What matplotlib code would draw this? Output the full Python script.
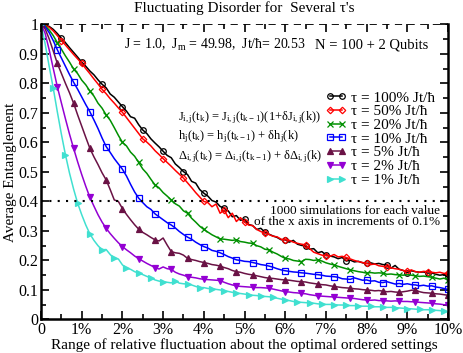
import matplotlib
matplotlib.use("Agg")
import matplotlib.pyplot as plt
import numpy as np
from matplotlib.ticker import MultipleLocator

plt.rcParams['font.family'] = ['Liberation Serif', 'DejaVu Serif']
plt.rcParams['mathtext.fontset'] = 'custom'
plt.rcParams['mathtext.rm'] = 'Liberation Serif'
plt.rcParams['mathtext.it'] = 'Liberation Serif'
plt.rcParams['mathtext.default'] = 'regular'

# range of relative fluctuation, in percent (0.1% steps)
x_pct = np.round(np.arange(0, 101) * 0.1, 1)

tau_100 = [1.000, 0.998, 0.993, 0.983, 0.969, 0.953, 0.938, 0.921, 0.905, 0.889,
           0.872, 0.858, 0.842, 0.829, 0.812, 0.797, 0.785, 0.764, 0.753, 0.737,
           0.721, 0.706, 0.687, 0.682, 0.660, 0.642, 0.630, 0.612, 0.598, 0.585,
           0.570, 0.556, 0.548, 0.527, 0.515, 0.501, 0.491, 0.468, 0.462, 0.440,
           0.428, 0.418, 0.403, 0.398, 0.383, 0.377, 0.368, 0.348, 0.352, 0.336,
           0.340, 0.322, 0.318, 0.305, 0.309, 0.296, 0.289, 0.283, 0.278, 0.270,
           0.270, 0.262, 0.268, 0.255, 0.251, 0.249, 0.238, 0.240, 0.226, 0.230,
           0.219, 0.215, 0.212, 0.206, 0.210, 0.198, 0.201, 0.195, 0.197, 0.192,
           0.190, 0.192, 0.188, 0.190, 0.186, 0.185, 0.174, 0.183, 0.170, 0.166,
           0.159, 0.165, 0.162, 0.160, 0.161, 0.157, 0.158, 0.153, 0.150, 0.152,
           0.143]
tau_50 = [1.000, 0.997, 0.990, 0.978, 0.962, 0.945, 0.930, 0.914, 0.898, 0.883,
          0.868, 0.850, 0.833, 0.815, 0.798, 0.780, 0.765, 0.748, 0.733, 0.717,
          0.702, 0.684, 0.666, 0.648, 0.630, 0.612, 0.601, 0.588, 0.572, 0.559,
          0.545, 0.532, 0.519, 0.505, 0.492, 0.479, 0.463, 0.447, 0.430, 0.415,
          0.400, 0.396, 0.382, 0.391, 0.360, 0.371, 0.345, 0.360, 0.332, 0.345,
          0.330, 0.320, 0.318, 0.305, 0.298, 0.292, 0.288, 0.282, 0.280, 0.272,
          0.270, 0.268, 0.262, 0.258, 0.255, 0.253, 0.240, 0.228, 0.223, 0.218,
          0.216, 0.214, 0.220, 0.212, 0.214, 0.210, 0.205, 0.200, 0.196, 0.193,
          0.190, 0.186, 0.188, 0.182, 0.180, 0.179, 0.175, 0.172, 0.170, 0.166,
          0.163, 0.168, 0.162, 0.160, 0.163, 0.162, 0.160, 0.158, 0.160, 0.156,
          0.157]
tau_20 = [1.000, 0.995, 0.981, 0.962, 0.938, 0.916, 0.893, 0.872, 0.849, 0.833,
          0.811, 0.795, 0.774, 0.757, 0.733, 0.716, 0.693, 0.675, 0.650, 0.624,
          0.600, 0.588, 0.567, 0.553, 0.532, 0.510, 0.495, 0.475, 0.456, 0.446,
          0.430, 0.418, 0.405, 0.392, 0.384, 0.368, 0.360, 0.343, 0.330, 0.316,
          0.305, 0.296, 0.287, 0.280, 0.273, 0.272, 0.270, 0.268, 0.270, 0.264,
          0.262, 0.259, 0.258, 0.250, 0.246, 0.238, 0.236, 0.228, 0.222, 0.214,
          0.207, 0.205, 0.200, 0.198, 0.196, 0.204, 0.203, 0.200, 0.202, 0.198,
          0.192, 0.188, 0.185, 0.180, 0.176, 0.172, 0.168, 0.165, 0.162, 0.160,
          0.157, 0.159, 0.157, 0.158, 0.157, 0.153, 0.154, 0.152, 0.151, 0.150,
          0.152, 0.150, 0.148, 0.146, 0.147, 0.145, 0.143, 0.140, 0.137, 0.140,
          0.134]
tau_10 = [1.000, 0.992, 0.972, 0.945, 0.914, 0.886, 0.858, 0.830, 0.804, 0.780,
          0.754, 0.728, 0.704, 0.676, 0.647, 0.615, 0.586, 0.566, 0.545, 0.527,
          0.509, 0.486, 0.458, 0.432, 0.411, 0.396, 0.382, 0.373, 0.358, 0.348,
          0.338, 0.328, 0.320, 0.310, 0.298, 0.288, 0.279, 0.272, 0.262, 0.254,
          0.247, 0.242, 0.234, 0.231, 0.226, 0.220, 0.213, 0.208, 0.202, 0.200,
          0.197, 0.196, 0.193, 0.190, 0.186, 0.184, 0.181, 0.177, 0.172, 0.168,
          0.165, 0.163, 0.161, 0.160, 0.158, 0.157, 0.155, 0.153, 0.152, 0.150,
          0.147, 0.146, 0.145, 0.143, 0.138, 0.137, 0.136, 0.141, 0.137, 0.133,
          0.134, 0.130, 0.131, 0.126, 0.125, 0.128, 0.124, 0.120, 0.122, 0.119,
          0.121, 0.118, 0.117, 0.114, 0.116, 0.113, 0.114, 0.110, 0.108, 0.105,
          0.102]
tau_5 = [1.000, 0.985, 0.951, 0.910, 0.868, 0.834, 0.800, 0.768, 0.733, 0.693,
         0.655, 0.617, 0.580, 0.551, 0.525, 0.497, 0.473, 0.440, 0.405, 0.400,
         0.376, 0.356, 0.338, 0.321, 0.306, 0.295, 0.287, 0.278, 0.270, 0.266,
         0.276, 0.252, 0.230, 0.226, 0.224, 0.218, 0.207, 0.203, 0.200, 0.196,
         0.193, 0.190, 0.186, 0.184, 0.181, 0.176, 0.172, 0.166, 0.162, 0.160,
         0.156, 0.153, 0.151, 0.148, 0.145, 0.142, 0.140, 0.139, 0.137, 0.135,
         0.134, 0.133, 0.131, 0.129, 0.128, 0.127, 0.124, 0.122, 0.120, 0.118,
         0.117, 0.114, 0.112, 0.110, 0.108, 0.107, 0.106, 0.104, 0.103, 0.101,
         0.100, 0.099, 0.097, 0.098, 0.096, 0.094, 0.095, 0.093, 0.092, 0.094,
         0.096, 0.099, 0.100, 0.094, 0.091, 0.090, 0.089, 0.087, 0.086, 0.084,
         0.082]
tau_2 = [1.000, 0.970, 0.914, 0.851, 0.789, 0.734, 0.680, 0.628, 0.580, 0.534,
         0.491, 0.451, 0.414, 0.384, 0.355, 0.330, 0.309, 0.291, 0.275, 0.260,
         0.247, 0.236, 0.226, 0.215, 0.206, 0.198, 0.190, 0.183, 0.176, 0.171,
         0.178, 0.172, 0.170, 0.160, 0.154, 0.150, 0.145, 0.143, 0.141, 0.138,
         0.136, 0.135, 0.134, 0.133, 0.132, 0.126, 0.121, 0.117, 0.114, 0.112,
         0.111, 0.110, 0.109, 0.108, 0.108, 0.107, 0.106, 0.103, 0.100, 0.097,
         0.094, 0.093, 0.091, 0.090, 0.088, 0.087, 0.084, 0.082, 0.080, 0.079,
         0.078, 0.077, 0.076, 0.075, 0.074, 0.073, 0.072, 0.071, 0.069, 0.067,
         0.066, 0.065, 0.066, 0.064, 0.064, 0.063, 0.062, 0.063, 0.062, 0.061,
         0.061, 0.060, 0.060, 0.058, 0.057, 0.056, 0.055, 0.053, 0.052, 0.050,
         0.049]
tau_1 = [1.000, 0.935, 0.858, 0.784, 0.704, 0.628, 0.558, 0.496, 0.442, 0.394,
         0.355, 0.320, 0.290, 0.268, 0.250, 0.236, 0.237, 0.220, 0.207, 0.205,
         0.185, 0.174, 0.170, 0.162, 0.157, 0.152, 0.146, 0.140, 0.134, 0.130,
         0.128, 0.126, 0.124, 0.130, 0.123, 0.121, 0.120, 0.117, 0.112, 0.108,
         0.108, 0.105, 0.104, 0.102, 0.100, 0.097, 0.095, 0.092, 0.089, 0.088,
         0.086, 0.084, 0.082, 0.081, 0.079, 0.078, 0.077, 0.075, 0.072, 0.069,
         0.066, 0.064, 0.061, 0.059, 0.058, 0.057, 0.056, 0.055, 0.053, 0.052,
         0.051, 0.051, 0.050, 0.049, 0.049, 0.048, 0.047, 0.047, 0.046, 0.045,
         0.045, 0.044, 0.043, 0.043, 0.042, 0.041, 0.041, 0.040, 0.039, 0.038,
         0.037, 0.036, 0.035, 0.034, 0.033, 0.033, 0.032, 0.031, 0.030, 0.028,
         0.026]

tau_labels = ["100%", "50%", "20%", "10%", "5%", "2%", "1%"]

series = [
    (tau_100, "black", "o", 5, True),
    (tau_50, "#ff0000", "D", 5, True),
    (tau_20, "#009000", "x", 4, False),
    (tau_10, "#0000ff", "s", 4, True),
    (tau_5, "#6a1245", "^", 4, False),
    (tau_2, "#9400d3", "v", 4, False),
    (tau_1, "#40e0d0", ">", 3, False),
]

fig = plt.figure(figsize=(4.63, 3.53), dpi=100)
ax = fig.add_axes([0.0886, 0.095, 0.879, 0.836])

for (vals, col, mk, every, hollow), lab in zip(series, tau_labels):
    ax.plot(x_pct, vals, color=col, lw=1.1, marker=mk, markevery=every,
            ms=3.3 if mk == "D" else 4.0, mew=0.9,
            mfc="none" if hollow else col,
            label="τ = " + lab + " Jt/ħ")

ax.axhline(1.0, color="black", ls=(0, (4, 3)), lw=1.3, zorder=5)
ax.axhline(0.4, color="black", ls=(0, (1, 3)), lw=1.5)

ax.set_xlim(0, 10)
ax.set_ylim(0, 1)
ax.xaxis.set_minor_locator(MultipleLocator(0.5))
ax.yaxis.set_minor_locator(MultipleLocator(0.05))
ax.set_xticks(range(0, 11))
ax.set_xticklabels(["0"] + ["%d%%" % i for i in range(1, 11)])
ax.set_yticks(np.round(np.arange(0, 1.01, 0.1), 1))
ax.set_yticklabels(["0"] + ["%.1f" % v for v in np.arange(0.1, 0.95, 0.1)] + ["1"])
ax.tick_params(which="both", direction="in", top=True, right=True, labelsize=11.5,
               width=1.2, pad=2)
ax.tick_params(which="major", length=6)
ax.tick_params(which="minor", length=3.5)
for s in ["left", "right", "bottom"]:
    ax.spines[s].set_linewidth(1.8)
ax.spines["top"].set_visible(False)

ax.set_title("Fluctuating Disorder for  Several τ's", fontsize=11, pad=9)
ax.set_ylabel("Average Entanglement", fontsize=11, labelpad=1)
ax.set_xlabel("Range of relative fluctuation about the optimal ordered settings",
              fontsize=11, labelpad=0)

ax.text(2.05, 0.93, r"J = 1.0,  J$_m$ = 49.98,  Jt/ħ= 20.53", fontsize=10, va="center")
ax.text(6.73, 0.93, "N = 100 + 2 Qubits", fontsize=10.5, va="center")

eqs = [r"J$_{i,j}$(t$_k$) = J$_{i,j}$(t$_{k-1}$)(1+δJ$_{i,j}$(k))",
       r"h$_j$(t$_k$) = h$_j$(t$_{k-1}$) + δh$_j$(k)",
       r"Δ$_{i,j}$(t$_k$) = Δ$_{i,j}$(t$_{k-1}$) + δΔ$_{i,j}$(k)"]
for i, eq in enumerate(eqs):
    ax.text(3.37, 0.685 - i * 0.066, eq, fontsize=9, va="center")

ax.text(9.8, 0.388, "1000 simulations for each value\nof the x axis in increments of 0.1%",
        fontsize=9.5, ha="right", va="top", linespacing=0.9)

leg = ax.legend(loc="upper left", bbox_to_anchor=(0.68, 0.8), frameon=False,
                fontsize=11, numpoints=2, handlelength=1.4, handletextpad=0.3,
                labelspacing=0.0, borderpad=0)

fig.savefig("out.png", dpi=100)
